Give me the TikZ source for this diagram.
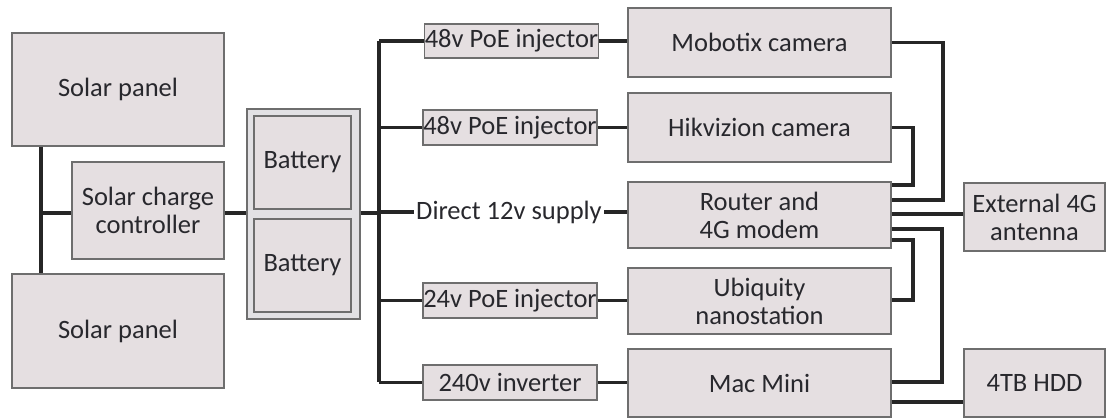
\documentclass[tikz,border=0pt]{standalone}
\usepackage{fontspec}
\setmainfont{Carlito}
\definecolor{boxfill}{RGB}{229,223,225}
\definecolor{outerfill}{RGB}{226,225,228}
\definecolor{boxline}{RGB}{110,110,110}
\definecolor{txt}{RGB}{40,40,45}
\begin{document}
\begin{tikzpicture}[x=1pt,y=-1pt,
  box/.style={draw=boxline,line width=1.4pt,fill=boxfill,inner sep=0pt,align=center,text=txt,
    font=\fontsize{26.5}{29}\selectfont},
  wire/.style={line width=3.1pt,black!85}]
\useasboundingbox (0,0) rectangle (1106,419);
% left part
\node[box,minimum width=212pt,minimum height=113pt] (sp1) at (118,89.5) {Solar panel};
\node[box,minimum width=212pt,minimum height=114pt] (sp2) at (118,331) {Solar panel};
\node[box,minimum width=152pt,minimum height=97pt] (cc) at (148,210.5) {Solar charge\\[-1pt]controller};
\node[box,fill=outerfill,minimum width=113pt,minimum height=210pt] (bat) at (303.5,214) {};
\node[box,minimum width=97pt,minimum height=93pt] (bat1) at (302.5,162.5) {Battery};
\node[box,minimum width=97pt,minimum height=93pt] (bat2) at (302.5,265.5) {Battery};
% injectors
\node[box,minimum width=173pt,minimum height=34pt] (inj1) at (511.5,41) {48v PoE injector};
\node[box,minimum width=174pt,minimum height=35pt] (inj2) at (510,127.5) {48v PoE injector};
\node[box,draw=none,fill=none,inner sep=2pt] (d12) at (509,212) {Direct 12v supply};
\node[box,minimum width=174pt,minimum height=35pt] (inj3) at (510,300.5) {24v PoE injector};
\node[box,minimum width=174pt,minimum height=35pt] (inv) at (510,382.5) {240v inverter};
% devices
\node[box,minimum width=263pt,minimum height=69pt] (mob) at (759.5,42.5) {Mobotix camera};
\node[box,minimum width=263pt,minimum height=69pt] (hik) at (759.5,127.5) {Hikvizion camera};
\node[box,minimum width=263pt,minimum height=66pt] (rtr) at (759.5,215) {Router and\\[-1pt]4G modem};
\node[box,minimum width=263pt,minimum height=66pt] (ubq) at (759.5,301) {Ubiquity\\[-1pt]nanostation};
\node[box,minimum width=263pt,minimum height=68pt] (mac) at (759.5,383) {Mac Mini};
\node[box,minimum width=141pt,minimum height=68pt] (ant) at (1034.5,217) {External 4G\\[-1pt]antenna};
\node[box,minimum width=141pt,minimum height=68pt] (hdd) at (1034.5,383) {4TB HDD};
% left wiring
\coordinate (lb) at (41,213);
\coordinate (bus) at (379,213);
\draw[wire] (sp1.south -| lb) -- (sp2.north -| lb);
\draw[wire] (lb) -- (cc.west |- lb);
\draw[wire] (cc.east |- lb) -- (bat.west |- lb);
\draw[wire] (bat.east |- lb) -- (bus);
\draw[wire] (inj1.west -| bus) -- (inv.west -| bus);
\draw[wire] (inj1.west -| bus) -- (inj1.west);
\draw[wire] (inj2.west -| bus) -- (inj2.west);
\draw[wire] (d12.west -| bus) -- (d12.west);
\draw[wire] (inj3.west -| bus) -- (inj3.west);
\draw[wire] (inv.west -| bus) -- (inv.west);
% injectors to devices
\draw[wire] (inj1.east) -- (mob.west |- inj1.east);
\draw[wire] (inj2.east) -- (hik.west |- inj2.east);
\draw[wire] (d12.east) -- (rtr.west |- d12.east);
\draw[wire] (inj3.east) -- (ubq.west |- inj3.east);
\draw[wire] (inv.east) -- (mac.west |- inv.east);
% right wiring
\draw[wire] (mob.east) -| (943,200) -- (rtr.east |- 0,200);
\draw[wire] (hik.east) -| (913,185) -- (rtr.east |- 0,185);
\draw[wire] (rtr.east |- 0,214) -- (ant.west |- 0,214);
\draw[wire] (rtr.east |- 0,229) -| (942,382) -- (mac.east |- 0,382);
\draw[wire] (rtr.east |- 0,240) -| (913,300) -- (ubq.east |- 0,300);
\draw[wire] (mac.east |- 0,402) -- (hdd.west |- 0,402);
\end{tikzpicture}
\end{document}
